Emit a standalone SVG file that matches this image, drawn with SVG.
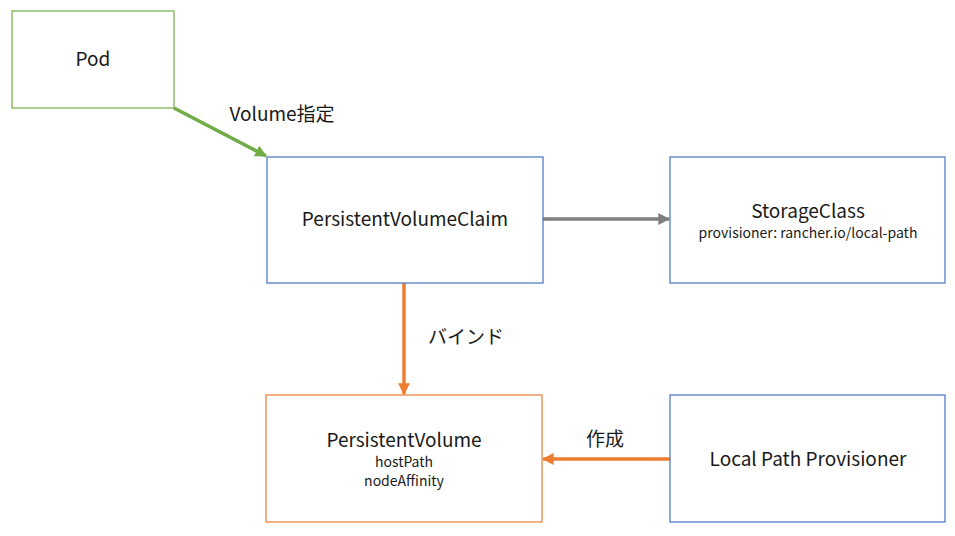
<svg xmlns="http://www.w3.org/2000/svg" width="955" height="536" viewBox="0 0 955 536">
<style>
text{font-family:"Noto Sans CJK JP","Noto Sans",sans-serif;fill:#1a1a1a;text-anchor:middle}
.t{font-size:19px}.s{font-size:14px}
rect{fill:#fff;stroke-width:1.2}
.c{stroke-width:3.5;fill:none}
</style>
<defs>
<marker id="ag" viewBox="0 0 10 10" refX="9" refY="5" markerWidth="3.4" markerHeight="3.4" orient="auto"><path d="M0,0L10,5L0,10z" fill="#70AD47"/></marker>
<marker id="ay" viewBox="0 0 10 10" refX="9" refY="5" markerWidth="3.4" markerHeight="3.4" orient="auto"><path d="M0,0L10,5L0,10z" fill="#7F7F7F"/></marker>
<marker id="ao" viewBox="0 0 10 10" refX="9" refY="5" markerWidth="3.4" markerHeight="3.4" orient="auto"><path d="M0,0L10,5L0,10z" fill="#ED7D31"/></marker>
</defs>
<rect width="955" height="536" fill="#fff" stroke="none"/>
<g id="connectors">
<line class="c" x1="174" y1="108" x2="266" y2="156" stroke="#70AD47" marker-end="url(#ag)"/>
<line class="c" x1="543" y1="219" x2="669" y2="219" stroke="#7F7F7F" marker-end="url(#ay)"/>
<line class="c" x1="404" y1="283" x2="404" y2="394" stroke="#ED7D31" marker-end="url(#ao)"/>
<line class="c" x1="670" y1="459" x2="543" y2="459" stroke="#ED7D31" marker-end="url(#ao)"/>
<text class="t" x="282" y="121">Volume指定</text>
<text class="t" x="466" y="344">バインド</text>
<text class="t" x="605" y="446">作成</text>
</g>
<g id="pod"><rect x="12" y="11" width="162" height="97" stroke="#70AD47"/><text class="t" x="93" y="66">Pod</text></g>
<g id="pvc"><rect x="267" y="157" width="276" height="126" stroke="#4472C4"/><text class="t" x="405" y="226">PersistentVolumeClaim</text></g>
<g id="sc"><rect x="670" y="157" width="275" height="126" stroke="#4472C4"/><text class="t" x="808" y="218">StorageClass</text><text class="s" x="808" y="238">provisioner: rancher.io/local-path</text></g>
<g id="pv"><rect x="266" y="395" width="276" height="127" stroke="#ED7D31"/><text class="t" x="404" y="447">PersistentVolume</text><text class="s" x="404" y="467">hostPath</text><text class="s" x="404" y="486">nodeAffinity</text></g>
<g id="lpp"><rect x="670" y="395" width="275" height="127" stroke="#4472C4"/><text class="t" x="808" y="466">Local Path Provisioner</text></g>
</svg>
